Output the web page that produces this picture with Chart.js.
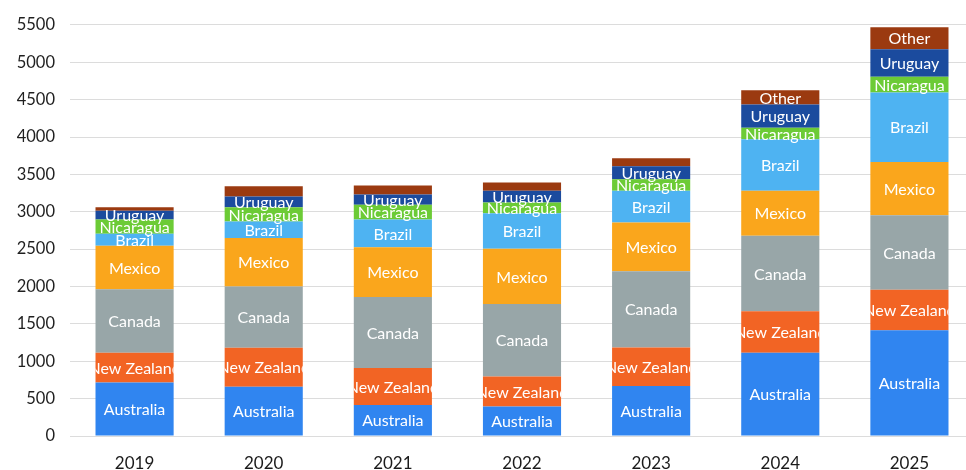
<!DOCTYPE html>
<html>
<head>
<meta charset="utf-8">
<script src="https://cdn.jsdelivr.net/npm/chart.js@4"></script>
<style>
    html, body { margin: 0; padding: 0; background: #ffffff; overflow: hidden; }
    #wrap { width: 976px; height: 470px; }
</style>
</head>
<body>
<div id="wrap"><canvas id="chart"></canvas></div>
<script>
const years = ["2019", "2020", "2021", "2022", "2023", "2024", "2025"];

const australia  = [715, 660, 415, 395, 670, 1115, 1415];
const newZealand = [400, 520, 495, 400, 515, 555, 540];
const canada     = [850, 820, 950, 970, 1020, 1010, 1000];
const mexico     = [580, 650, 665, 740, 650, 600, 710];
const brazil     = [160, 220, 370, 475, 425, 690, 930];
const nicaragua  = [190, 190, 200, 145, 155, 155, 210];
const uruguay    = [120, 145, 135, 155, 175, 310, 370];
const other      = [45, 135, 120, 110, 105, 190, 295];

// "Other" is only labelled where the segment is big enough
const OTHER_LABEL_MIN = 180;

const series = [
    { label: "Australia",   data: australia,  color: "#3085F0" },
    { label: "New Zealand", data: newZealand, color: "#F26424" },
    { label: "Canada",      data: canada,     color: "#98A6A8" },
    { label: "Mexico",      data: mexico,     color: "#FAA61C" },
    { label: "Brazil",      data: brazil,     color: "#4EB3F2" },
    { label: "Nicaragua",   data: nicaragua,  color: "#6CCB36" },
    { label: "Uruguay",     data: uruguay,    color: "#1B4B9E" },
    { label: "Other",       data: other,      color: "#9B3A10" }
];

const FONT = "Lato, 'Open Sans', sans-serif";

// draws the series name inside each stacked segment, clipped to the bar width
const segmentLabels = {
    id: "segmentLabels",
    afterDatasetsDraw(chart) {
        const ctx = chart.ctx;
        const area = chart.chartArea;
        chart.data.datasets.forEach(function (ds, i) {
            const meta = chart.getDatasetMeta(i);
            meta.data.forEach(function (bar, j) {
                if (ds.label === "Other" && ds.data[j] < OTHER_LABEL_MIN) return;
                const p = bar.getProps(["x", "y", "base", "width"], true);
                ctx.save();
                ctx.beginPath();
                ctx.rect(p.x - p.width / 2, area.top - 10, p.width, area.height + 10);
                ctx.clip();
                ctx.fillStyle = "#ffffff";
                ctx.font = "16px " + FONT;
                ctx.textAlign = "center";
                ctx.textBaseline = "middle";
                ctx.fillText(ds.label, p.x, (p.y + p.base) / 2 + 1);
                ctx.restore();
            });
        });
    }
};

new Chart(document.getElementById("chart"), {
    type: "bar",
    data: {
        labels: years,
        datasets: series.map(function (s) {
            return {
                label: s.label,
                data: s.data,
                backgroundColor: s.color,
                borderWidth: 0,
                barPercentage: 0.605,
                categoryPercentage: 1
            };
        })
    },
    options: {
        responsive: true,
        maintainAspectRatio: false,
        animation: false,
        layout: { padding: { top: 15, right: 2, left: 0, bottom: 0 } },
        plugins: {
            legend: { display: false },
            tooltip: { enabled: false }
        },
        scales: {
            x: {
                stacked: true,
                grid: { display: false, drawTicks: false },
                border: { display: false },
                ticks: {
                    color: "#1a1a1a",
                    font: { family: FONT, size: 17 },
                    padding: 17
                },
                afterFit: function (scale) { scale.height = 34; }
            },
            y: {
                stacked: true,
                min: 0,
                max: 5500,
                grid: { color: "#dcdcdc", lineWidth: 1, drawTicks: false },
                border: { display: false },
                ticks: {
                    stepSize: 500,
                    color: "#1f1f1f",
                    font: { family: FONT, size: 16.5 },
                    padding: 15,
                    callback: function (value) { return String(value); }
                },
                afterFit: function (scale) { scale.width = 70; }
            }
        }
    },
    plugins: [segmentLabels]
});
</script>
</body>
</html>
